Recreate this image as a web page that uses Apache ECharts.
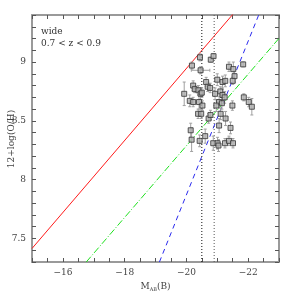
<!DOCTYPE html>
<html><head><meta charset="utf-8">
<script src="https://cdn.jsdelivr.net/npm/echarts@6/dist/echarts.min.js"></script>
<style>html,body{margin:0;padding:0;background:#fff}#c{width:294px;height:294px}</style>
</head><body><div id="c"></div>
<script>
// Absolute B magnitude of each galaxy
var magB = [-20.18,-20.44,-20.46,-20.79,-20.88,-21.38,-21.52,-21.84,-21.56,-21.50,
  -19.93,-20.22,-20.27,-20.11,-20.22,-20.39,-20.46,-20.50,-20.41,-20.52,
  -20.64,-20.69,-20.77,-21.00,-21.17,-21.26,-20.93,-21.10,-21.17,-21.24,
  -21.06,-20.97,-21.15,-21.49,-21.86,-22.02,-22.12,-20.38,-20.48,-20.72,
  -20.78,-21.11,-21.27,-21.06,-21.43,-20.14,-20.17,-20.43,-20.61,-20.87,
  -21.01,-21.04,-21.25,-21.38,-21.51];
// 12+log(O/H)
var oh = [8.97,9.04,8.93,9.02,9.05,8.96,8.94,8.98,8.88,8.84,
  8.73,8.80,8.77,8.67,8.66,8.76,8.73,8.74,8.66,8.63,
  8.83,8.79,8.78,8.85,8.83,8.84,8.73,8.75,8.72,8.70,
  8.66,8.63,8.65,8.63,8.70,8.66,8.62,8.56,8.56,8.52,
  8.55,8.56,8.52,8.46,8.44,8.42,8.34,8.33,8.37,8.31,
  8.31,8.29,8.31,8.33,8.31];
var ohErr = [0.03,0.03,0.03,0.02,0.02,0.04,0.06,0.02,0.05,0.03,
  0.10,0.04,0.03,0.05,0.04,0.04,0.05,0.04,0.06,0.04,
  0.04,0.04,0.04,0.05,0.05,0.05,0.05,0.04,0.05,0.05,
  0.05,0.05,0.05,0.04,0.03,0.04,0.07,0.04,0.04,0.04,
  0.04,0.05,0.06,0.06,0.05,0.06,0.10,0.05,0.06,0.06,
  0.05,0.05,0.04,0.04,0.04];
var magErr = [0,0,0.3,0,0,0,0,0,0,0,
  0,0,0,0,0,0,0,0,0,0,
  0,0,0,0,0,0,0,0,0,0,
  0,0,0,0,0,0,0,0,0,0,
  0,0,0,0,0,0,0,0,0,0,
  0,0,0,0,0];
// relations
var redLine = [[-15, 7.415], [-21.6, 9.435]];
var greenLine = [[-16.757, 7.3], [-23, 9.2015]];
var blueLine = [[-19.127, 7.3], [-22.35, 9.405]];
var vline1 = [[-20.5, 7.3], [-20.5, 9.4]];
var vline2 = [[-20.9, 7.3], [-20.9, 9.4]];
var xMin = -23, xMax = -15, yMin = 7.3, yMax = 9.4;
var annot1 = 'wide', annot2 = '0.7 < z < 0.9';
var yTitle = '12+log(O/H)';

var points = magB.map(function(m, i){ return [m, oh[i]]; });
var errData = magB.map(function(m, i){ return [m, oh[i], ohErr[i], magErr[i]]; });

var FONT = 'DejaVu Serif';
var frameCol = '#9a9a9a', tickCol = '#555';
function xFmt(v){ var r = Math.round(v); if (Math.abs(v - r) > 1e-6 || r % 2 !== 0) return ''; return '\u2212' + Math.abs(r); }
function yFmt(v){ var r = Math.round(v*2); if (Math.abs(v*2 - r) > 1e-6) return ''; return String(r/2); }

var baseX = {type:'value', min:xMin, max:xMax, inverse:true, interval:0.5,
  axisLine:{show:true, onZero:false, lineStyle:{color:frameCol, width:2}},
  axisTick:{show:true, inside:true, length:4, lineStyle:{color:tickCol, width:1}},
  splitLine:{show:false}};
var baseY = {type:'value', min:yMin, max:yMax, interval:0.1,
  axisLine:{show:true, onZero:false, lineStyle:{color:frameCol, width:2}},
  axisTick:{show:true, inside:true, length:4, lineStyle:{color:tickCol, width:1}},
  splitLine:{show:false}};

var chart = echarts.init(document.getElementById('c'), null, {renderer:'canvas'});
chart.setOption({
  animation:false,
  backgroundColor:'#fff',
  grid:{left:32, right:15, top:15, bottom:32, containLabel:false, outerBoundsMode:'none'},
  xAxis:[
    Object.assign({}, baseX, {position:'bottom',
      name:'{m|M}{s|AB}{m|(B)}', nameLocation:'middle', nameGap:17,
      nameTextStyle:{rich:{m:{fontFamily:FONT, fontSize:9, color:'#444'}, s:{fontFamily:FONT, fontSize:5, color:'#444', verticalAlign:'bottom', padding:[6,0,0,0]}}},
      axisLabel:{formatter:xFmt, fontFamily:FONT, fontSize:9, color:'#444', margin:6, showMinLabel:true, showMaxLabel:true}}),
    Object.assign({}, baseX, {position:'top', axisLabel:{show:false}})
  ],
  yAxis:[
    Object.assign({}, baseY, {position:'left',
      axisLabel:{formatter:yFmt, fontFamily:FONT, fontSize:9, color:'#444', margin:6}}),
    Object.assign({}, baseY, {position:'right', axisLabel:{show:false}})
  ],
  graphic:[
    {type:'text', left:41, top:27, style:{text:annot1, font:'9px "DejaVu Serif"', fill:'#333'}},
    {type:'text', left:41, top:39, style:{text:annot2, font:'9px "DejaVu Serif"', fill:'#333'}},
    {type:'text', x:12, y:139, rotation:Math.PI/2,
      style:{text:yTitle, font:'9px "DejaVu Serif"', fill:'#444', align:'center', verticalAlign:'middle'}}
  ],
  series:[
    {type:'line', data:redLine, symbol:'none', clip:true, lineStyle:{color:'#ff1a1a', width:1}, z:2},
    {type:'line', data:greenLine, symbol:'none', clip:true, lineStyle:{color:'#1ee01e', width:1, type:[7,2,1,2]}, z:2},
    {type:'line', data:blueLine, symbol:'none', clip:true, lineStyle:{color:'#2a2aee', width:1, type:[5,4]}, z:2},
    {type:'line', data:vline1, symbol:'none', clip:true, lineStyle:{color:'#111', width:1, type:[1,2]}, z:2},
    {type:'line', data:vline2, symbol:'none', clip:true, lineStyle:{color:'#555', width:1, type:[1,2]}, z:2},
    {type:'custom', data:errData, z:3, clip:true,
      renderItem:function(params, api){
        var x = api.value(0), y = api.value(1), ey = api.value(2), ex = api.value(3);
        var top = api.coord([x, y+ey]), bot = api.coord([x, y-ey]);
        var cap = 1.5, ch = [];
        var st = {stroke:'#a0a0a0', lineWidth:1};
        ch.push({type:'line', shape:{x1:top[0], y1:top[1], x2:bot[0], y2:bot[1]}, style:st});
        ch.push({type:'line', shape:{x1:top[0]-cap, y1:top[1], x2:top[0]+cap, y2:top[1]}, style:st});
        ch.push({type:'line', shape:{x1:bot[0]-cap, y1:bot[1], x2:bot[0]+cap, y2:bot[1]}, style:st});
        if (ex > 0) {
          var l = api.coord([x-ex, y]), r = api.coord([x+ex, y]);
          ch.push({type:'line', shape:{x1:l[0], y1:l[1], x2:r[0], y2:r[1]}, style:st});
          ch.push({type:'line', shape:{x1:l[0], y1:l[1]-cap, x2:l[0], y2:l[1]+cap}, style:st});
          ch.push({type:'line', shape:{x1:r[0], y1:r[1]-cap, x2:r[0], y2:r[1]+cap}, style:st});
        }
        return {type:'group', children:ch};
      }},
    {type:'scatter', data:points, symbol:'rect', symbolSize:5, z:4,
      itemStyle:{color:'#b0b0b0', borderColor:'#333', borderWidth:1}}
  ]
});
</script></body></html>
